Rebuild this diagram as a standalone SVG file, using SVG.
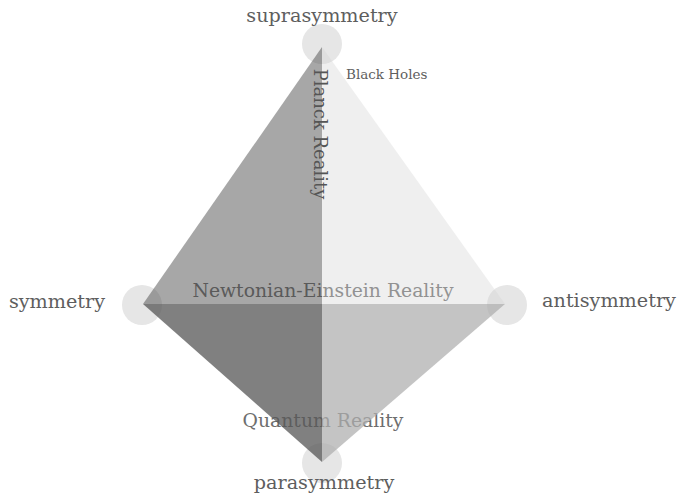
<svg xmlns="http://www.w3.org/2000/svg" width="679" height="504" viewBox="0 0 679 504">
  <style>
    .vtx { fill: #e6e6e6; }
    .lbl { font-family: "DejaVu Serif", "Liberation Serif", serif; font-size: 19.2px; fill: #5e5e5e; }
    .inner { font-family: "DejaVu Serif", "Liberation Serif", serif; font-size: 18.8px; fill: #6e6e6e; }
    .small { font-family: "DejaVu Serif", "Liberation Serif", serif; font-size: 13.5px; fill: #5e5e5e; }
    .vert { font-family: "DejaVu Serif", "Liberation Serif", serif; font-size: 18px; fill: #555; }
  </style>
  <rect width="679" height="504" fill="#ffffff"/>
  <g id="vertex-circles">
    <circle class="vtx" cx="322" cy="44" r="20"/>
    <circle class="vtx" cx="142" cy="305" r="20"/>
    <circle class="vtx" cx="507" cy="305" r="20"/>
    <circle class="vtx" cx="322" cy="463" r="20"/>
  </g>
  <g id="inner-labels">
    <text class="inner" x="323" y="297" text-anchor="middle">Newtonian-Einstein Reality</text>
    <text class="inner" x="323" y="427" text-anchor="middle">Quantum Reality</text>
  </g>
  <g id="faces">
    <polygon id="face-top-left" points="322,47 143,304 322,304" fill="#444" fill-opacity="0.47"/>
    <polygon id="face-top-right" points="322,47 322,304 505,304" fill="#d4d4d4" fill-opacity="0.36"/>
    <polygon id="face-bottom-left" points="143,304 322,304 322,462" fill="#585858" fill-opacity="0.76"/>
    <polygon id="face-bottom-right" points="322,304 505,304 322,462" fill="#aeaeae" fill-opacity="0.73"/>
  </g>
  <g id="node-suprasymmetry"><text class="lbl" x="322" y="22" text-anchor="middle">suprasymmetry</text></g>
  <g id="node-symmetry"><text class="lbl" x="57" y="308" text-anchor="middle">symmetry</text></g>
  <g id="node-antisymmetry"><text class="lbl" x="609" y="307" text-anchor="middle">antisymmetry</text></g>
  <g id="node-parasymmetry"><text class="lbl" x="324" y="489" text-anchor="middle">parasymmetry</text></g>
  <g id="node-black-holes"><text class="small" x="346" y="79">Black Holes</text></g>
  <g id="node-planck"><text class="vert" transform="translate(314,134) rotate(90)" text-anchor="middle">Planck Reality</text></g>
</svg>
